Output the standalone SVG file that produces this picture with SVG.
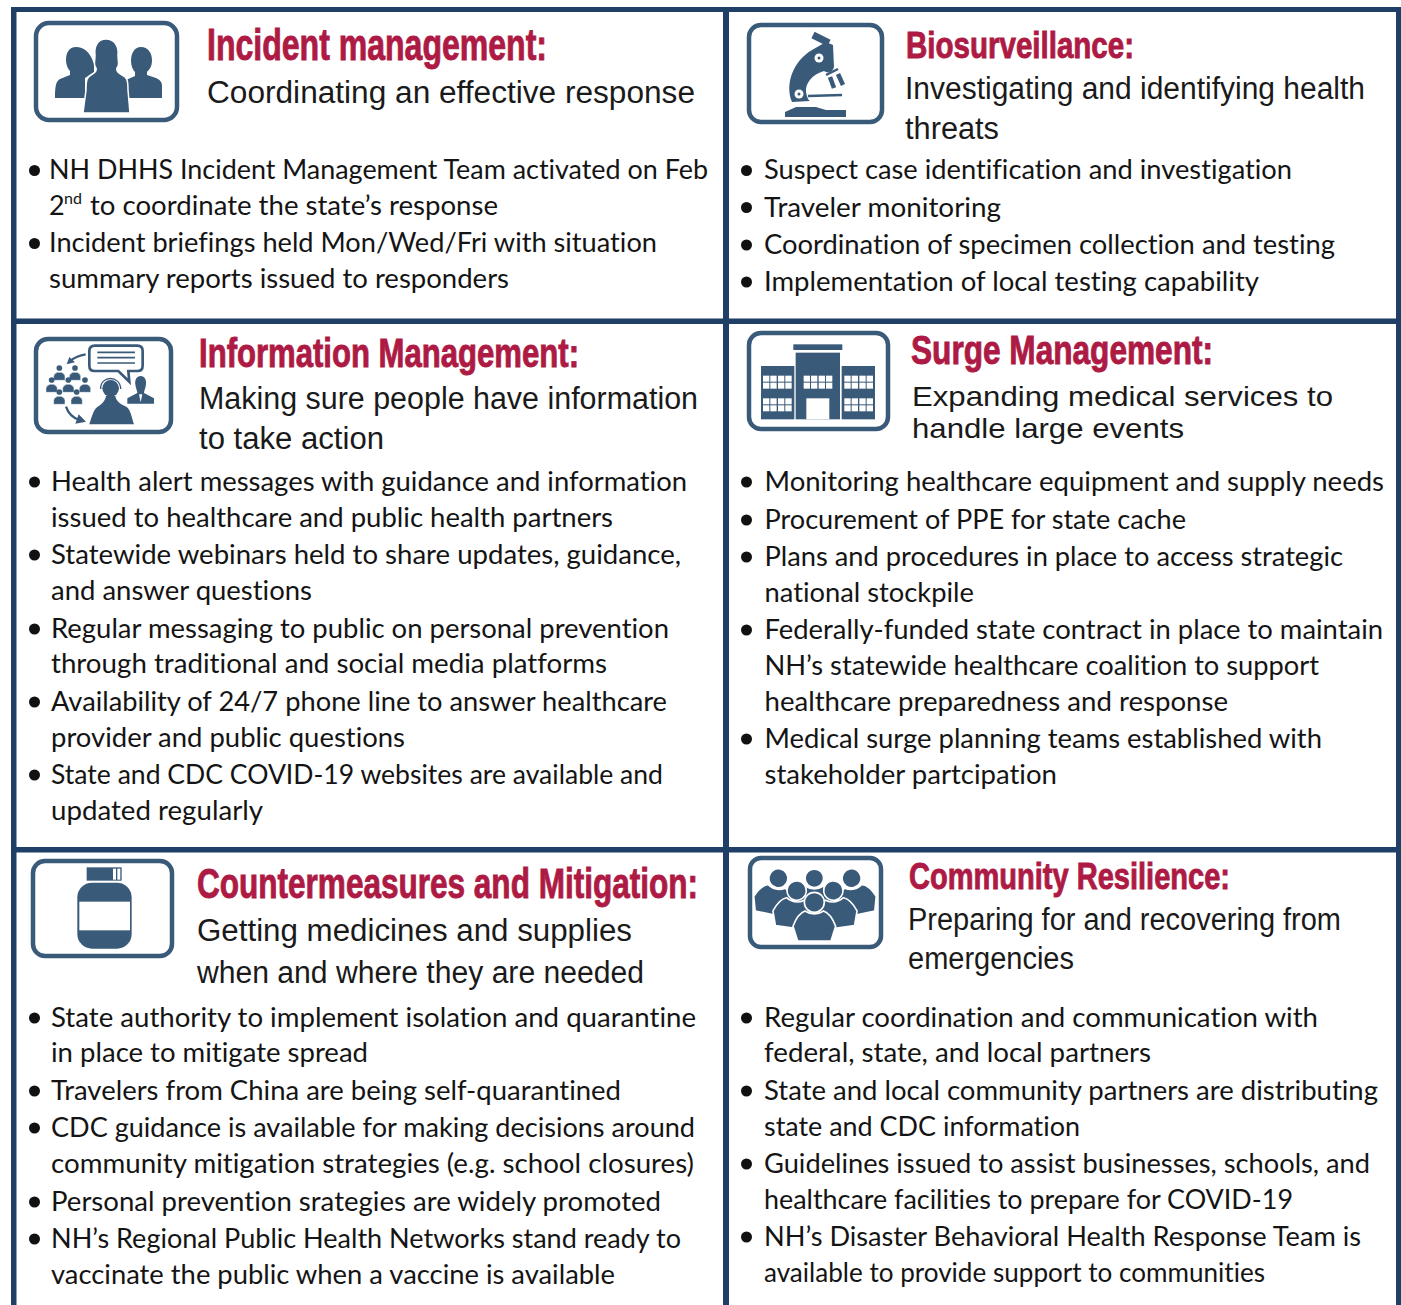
<svg xmlns="http://www.w3.org/2000/svg" xmlns:xlink="http://www.w3.org/1999/xlink" width="1401" height="1305" viewBox="0 0 1401 1305">
<style>
.t{font-family:"Liberation Sans",Arial,sans-serif;font-weight:700;fill:#ad1a44;stroke:#ad1a44;stroke-width:.9}
.s{font-family:"Liberation Sans",Arial,sans-serif;font-size:31px;fill:#1a1a1a;transform:translateY(.7px)}
.s2{font-size:28px}
.b{font-family:Lato,"Noto Sans",sans-serif;font-size:27px;fill:#141414;font-variant-ligatures:none;transform:translateY(.7px)}
.sup{font-family:Lato,"Noto Sans",sans-serif;font-size:16px;fill:#141414}
.d{fill:#111}
.frame{fill:#fff;stroke:#3a5a7a;stroke-width:4.5}
.i{fill:#3a5a7a}
.w{fill:#fff}
.il{fill:none;stroke:#3a5a7a}
.bar{fill:#1f3f66}
</style>
<defs>
<g id="pp"><circle cx="0" cy="-13" r="8.500"/><path d="M-17 24V12Q-17 5-6 0H6Q17 5 17 12V24Z" stroke="#fff" stroke-width="1.500"/></g>
<g id="win"><rect x="0" y="0" width="19" height="18"/><rect x="22" y="0" width="19" height="18"/><rect x="45" y="0" width="19" height="18"/><rect x="67" y="0" width="19" height="18"/><rect x="0" y="21" width="19" height="18"/><rect x="22" y="21" width="19" height="18"/><rect x="45" y="21" width="19" height="18"/><rect x="67" y="21" width="19" height="18"/></g>
<g id="cp"><path d="M-28 26Q-50 34-64 72L-50 116H50L64 72Q50 34 28 26Q0 44-28 26Z" stroke="#fff" stroke-width="5"/><circle cx="0" cy="0" r="30" stroke="#fff" stroke-width="5"/></g>
</defs>
<rect width="1401" height="1305" fill="#fff"/>
<g id="frame">
<rect class="bar" x="11" y="7" width="1390" height="5"/>
<rect class="bar" x="11" y="7" width="5.500" height="1298"/>
<rect class="bar" x="723" y="7" width="6" height="1298"/>
<rect class="bar" x="1396" y="7" width="5" height="1298"/>
<rect class="bar" x="11" y="318.500" width="1390" height="5.500"/>
<rect class="bar" x="11" y="847" width="1390" height="5.500"/>
</g>

<g id="incident-management">
<g id="icon-incident">
<rect class="frame" x="36" y="23" width="141" height="97" rx="13"/>
<path class="i" d="M76 47C69 47 66 53 66 60C66 65 68 69 70 71V75L60 79C56 81 55 86 55 98H85V78L94 72V64C90 52 84 47 76 47Z"/>
<path class="i" d="M141 47C134 47 131 54 131 61C131 66 133 70 135 72V76L126 80V98H162V86C162 82 160 80 156 78L147 75V72C150 69 152 66 152 60C152 53 148 47 141 47Z"/>
<path class="i" stroke="#fff" stroke-width="1.500" d="M106 39C97 39 94 47 95 55C95 62 93 65 96 68C97 71 95 73 91 75C87 77 86 80 86 90L83 113H130L128 90C128 80 127 77 122 75C118 73 116 71 117 68C120 65 118 62 118 55C119 47 115 39 106 39Z"/>
</g>
<text class="t" x="207" y="60" font-size="44" textLength="340" lengthAdjust="spacingAndGlyphs">Incident management:</text>
<text class="s" x="207" y="102" textLength="488" lengthAdjust="spacingAndGlyphs">Coordinating an effective response</text>
<circle class="d" cx="34.500" cy="170.500" r="5.500"/><circle class="d" cx="34.500" cy="243.500" r="5.500"/>
<text class="b" x="49" y="178" textLength="659" lengthAdjust="spacingAndGlyphs">NH DHHS Incident Management Team activated on Feb</text>
<text class="b" x="49" y="214">2</text><text class="sup" x="64" y="204">nd</text>
<text class="b" x="90" y="214" textLength="408" lengthAdjust="spacingAndGlyphs">to coordinate the state’s response</text>
<text class="b" x="49" y="251" textLength="608" lengthAdjust="spacingAndGlyphs">Incident briefings held Mon/Wed/Fri with situation</text>
<text class="b" x="49" y="287" textLength="460" lengthAdjust="spacingAndGlyphs">summary reports issued to responders</text>
</g>

<g id="biosurveillance">
<g id="icon-biosurveillance">
<rect class="frame" x="749" y="25" width="133" height="97" rx="12"/>
<path class="il" stroke-width="7" d="M813 35L829 43"/>
<path class="i" d="M826 42L833 45L834 67C833 72 828 74 824 71C813 74 805 83 806 92C807 97 808 100 810 101L792 102C785 85 792 62 812 50Z"/>
<circle class="w" cx="819" cy="58" r="4.500"/><circle class="i" cx="819" cy="58" r="1.500"/>
<circle class="w" cx="799" cy="94" r="4.500"/><circle class="i" cx="799" cy="94" r="1.500"/>
<path class="il" stroke-width="2.500" d="M826 75L838 69"/>
<path class="il" stroke-width="4.500" d="M830 77L834 88M838 74L843 85"/>
<path class="il" stroke-width="2.500" d="M808 96L842 95"/>
<path class="i" d="M785 117V112L796 107H816L826 110H846V117Z"/>
</g>
<text class="t" x="906" y="58" font-size="37" textLength="228" lengthAdjust="spacingAndGlyphs">Biosurveillance:</text>
<text class="s" x="905" y="98" textLength="460" lengthAdjust="spacingAndGlyphs">Investigating and identifying health</text>
<text class="s" x="905" y="138" textLength="94" lengthAdjust="spacingAndGlyphs">threats</text>
<circle class="d" cx="746.500" cy="170.500" r="5.500"/><circle class="d" cx="746.500" cy="207.500" r="5.500"/><circle class="d" cx="746.500" cy="245" r="5.500"/><circle class="d" cx="746.500" cy="282" r="5.500"/>
<text class="b" x="764" y="178" textLength="528" lengthAdjust="spacingAndGlyphs">Suspect case identification and investigation</text>
<text class="b" x="764" y="216" textLength="237" lengthAdjust="spacingAndGlyphs">Traveler monitoring</text>
<text class="b" x="764" y="253" textLength="571" lengthAdjust="spacingAndGlyphs">Coordination of specimen collection and testing</text>
<text class="b" x="764" y="290" textLength="495" lengthAdjust="spacingAndGlyphs">Implementation of local testing capability</text>
</g>

<g id="information-management">
<g id="icon-information">
<rect class="frame" x="36" y="339" width="135" height="93" rx="12"/>
<g transform="translate(20,325) scale(.3333)">
<path class="w" stroke="#3a5a7a" stroke-width="8" d="M225 62H352Q368 62 368 78V122Q368 138 352 138H325L328 170L295 138H224Q208 138 208 122V78Q208 62 225 62Z"/>
<path class="il" stroke-width="5" d="M232 82H345M232 98H345M232 114H345"/>
<path class="il" stroke-width="7" d="M197 88Q170 92 150 108M138 245Q148 275 178 285"/>
<path class="i" d="M140 118L165 112L148 96ZM198 290L166 296L176 268Z"/>
<g class="i"><use xlink:href="#pp" x="118" y="142"/><use xlink:href="#pp" x="165" y="142"/><use xlink:href="#pp" x="95" y="178"/><use xlink:href="#pp" x="145" y="178"/><use xlink:href="#pp" x="195" y="178"/><use xlink:href="#pp" x="118" y="214"/><use xlink:href="#pp" x="170" y="214"/></g>
<path class="i" d="M362 153C350 153 344 165 346 178C347 190 352 198 352 204L322 220V236H402V220L372 204C372 198 377 190 378 178C380 165 374 153 362 153Z"/>
<path class="w" d="M357 208L362 232L367 208Z"/>
<circle class="i" cx="272" cy="190" r="25"/>
<path class="il" stroke-width="4" d="M242 192C240 150 302 150 302 192"/>
<path class="i" d="M258 212H286C288 228 300 236 320 246C332 254 336 280 342 298H208C214 280 220 254 232 246C244 238 256 228 258 212Z"/>
</g>
</g>
<text class="t" x="199" y="367" font-size="40" textLength="380" lengthAdjust="spacingAndGlyphs">Information Management:</text>
<text class="s" x="199" y="408" textLength="499" lengthAdjust="spacingAndGlyphs">Making sure people have information</text>
<text class="s" x="199" y="448" textLength="185" lengthAdjust="spacingAndGlyphs">to take action</text>
<circle class="d" cx="34.500" cy="482" r="5.500"/><circle class="d" cx="34.500" cy="555" r="5.500"/><circle class="d" cx="34.500" cy="629" r="5.500"/><circle class="d" cx="34.500" cy="702" r="5.500"/><circle class="d" cx="34.500" cy="775" r="5.500"/>
<text class="b" x="51" y="490" textLength="636" lengthAdjust="spacingAndGlyphs">Health alert messages with guidance and information</text>
<text class="b" x="51" y="526" textLength="562" lengthAdjust="spacingAndGlyphs">issued to healthcare and public health partners</text>
<text class="b" x="51" y="563" textLength="630" lengthAdjust="spacingAndGlyphs">Statewide webinars held to share updates, guidance,</text>
<text class="b" x="51" y="599" textLength="261" lengthAdjust="spacingAndGlyphs">and answer questions</text>
<text class="b" x="51" y="637" textLength="618" lengthAdjust="spacingAndGlyphs">Regular messaging to public on personal prevention</text>
<text class="b" x="51" y="672" textLength="556" lengthAdjust="spacingAndGlyphs">through traditional and social media platforms</text>
<text class="b" x="51" y="710" textLength="616" lengthAdjust="spacingAndGlyphs">Availability of 24/7 phone line to answer healthcare</text>
<text class="b" x="51" y="746" textLength="354" lengthAdjust="spacingAndGlyphs">provider and public questions</text>
<text class="b" x="51" y="783" textLength="612" lengthAdjust="spacingAndGlyphs">State and CDC COVID-19 websites are available and</text>
<text class="b" x="51" y="819" textLength="212" lengthAdjust="spacingAndGlyphs">updated regularly</text>
</g>

<g id="surge-management">
<g id="icon-surge">
<rect class="frame" x="749" y="333" width="139" height="96" rx="12"/>
<g transform="translate(735,320) scale(.3333)">
<rect class="i" x="175" y="73" width="147" height="17"/>
<rect class="i" x="182" y="98" width="133" height="200"/>
<rect class="w" x="214" y="235" width="69" height="63"/>
<rect class="i" x="78" y="138" width="100" height="160"/>
<rect class="i" x="320" y="138" width="100" height="160"/>
<g class="w"><use xlink:href="#win" x="84" y="167"/><use xlink:href="#win" x="84" y="235"/><use xlink:href="#win" x="206" y="167"/><use xlink:href="#win" x="328" y="167"/><use xlink:href="#win" x="328" y="235"/></g>
</g>
</g>
<text class="t" x="911" y="364" font-size="40" textLength="302" lengthAdjust="spacingAndGlyphs">Surge Management:</text>
<text class="s s2" x="912" y="405" textLength="421" lengthAdjust="spacingAndGlyphs">Expanding medical services to</text>
<text class="s s2" x="912" y="437" textLength="272" lengthAdjust="spacingAndGlyphs">handle large events</text>
<circle class="d" cx="746.500" cy="482" r="5.500"/><circle class="d" cx="746.500" cy="520" r="5.500"/><circle class="d" cx="746.500" cy="557" r="5.500"/><circle class="d" cx="746.500" cy="630" r="5.500"/><circle class="d" cx="746.500" cy="739" r="5.500"/>
<text class="b" x="764.500" y="490" textLength="619.500" lengthAdjust="spacingAndGlyphs">Monitoring healthcare equipment and supply needs</text>
<text class="b" x="764.500" y="528" textLength="421.500" lengthAdjust="spacingAndGlyphs">Procurement of PPE for state cache</text>
<text class="b" x="764.500" y="565" textLength="578.500" lengthAdjust="spacingAndGlyphs">Plans and procedures in place to access strategic</text>
<text class="b" x="764.500" y="601" textLength="209.500" lengthAdjust="spacingAndGlyphs">national stockpile</text>
<text class="b" x="764.500" y="638" textLength="618.500" lengthAdjust="spacingAndGlyphs">Federally-funded state contract in place to maintain</text>
<text class="b" x="764.500" y="674" textLength="554.500" lengthAdjust="spacingAndGlyphs">NH’s statewide healthcare coalition to support</text>
<text class="b" x="764.500" y="710" textLength="463.500" lengthAdjust="spacingAndGlyphs">healthcare preparedness and response</text>
<text class="b" x="764.500" y="747" textLength="557.500" lengthAdjust="spacingAndGlyphs">Medical surge planning teams established with</text>
<text class="b" x="764.500" y="783" textLength="292.500" lengthAdjust="spacingAndGlyphs">stakeholder partcipation</text>
</g>

<g id="countermeasures-mitigation">
<g id="icon-countermeasures">
<rect class="frame" x="33" y="861" width="139" height="95" rx="12"/>
<g transform="translate(20,850) scale(.3333)">
<rect class="i" x="200" y="52" width="105" height="40"/>
<rect class="w" x="279" y="56" width="9" height="33"/><rect class="w" x="292" y="56" width="9" height="33"/>
<rect class="i" x="172" y="98" width="163" height="198" rx="44"/>
<rect class="w" x="178" y="155" width="152" height="86"/>
</g>
</g>
<text class="t" x="197" y="898" font-size="42" textLength="501" lengthAdjust="spacingAndGlyphs">Countermeasures and Mitigation:</text>
<text class="s" x="197" y="940" textLength="435" lengthAdjust="spacingAndGlyphs">Getting medicines and supplies</text>
<text class="s" x="197" y="982" textLength="447" lengthAdjust="spacingAndGlyphs">when and where they are needed</text>
<circle class="d" cx="34.500" cy="1018" r="5.500"/><circle class="d" cx="34.500" cy="1091" r="5.500"/><circle class="d" cx="34.500" cy="1128" r="5.500"/><circle class="d" cx="34.500" cy="1202" r="5.500"/><circle class="d" cx="34.500" cy="1239" r="5.500"/>
<text class="b" x="51" y="1026" textLength="645" lengthAdjust="spacingAndGlyphs">State authority to implement isolation and quarantine</text>
<text class="b" x="51" y="1061" textLength="317" lengthAdjust="spacingAndGlyphs">in place to mitigate spread</text>
<text class="b" x="51" y="1099" textLength="570" lengthAdjust="spacingAndGlyphs">Travelers from China are being self-quarantined</text>
<text class="b" x="51" y="1136" textLength="644" lengthAdjust="spacingAndGlyphs">CDC guidance is available for making decisions around</text>
<text class="b" x="51" y="1172" textLength="643" lengthAdjust="spacingAndGlyphs">community mitigation strategies (e.g. school closures)</text>
<text class="b" x="51" y="1210" textLength="610" lengthAdjust="spacingAndGlyphs">Personal prevention srategies are widely promoted</text>
<text class="b" x="51" y="1247" textLength="630" lengthAdjust="spacingAndGlyphs">NH’s Regional Public Health Networks stand ready to</text>
<text class="b" x="51" y="1283" textLength="564" lengthAdjust="spacingAndGlyphs">vaccinate the public when a vaccine is available</text>
</g>

<g id="community-resilience">
<g id="icon-community">
<rect class="frame" x="750" y="858" width="131" height="89" rx="11"/>
<g transform="translate(735,845) scale(.3333)" class="i">
<use xlink:href="#cp" transform="translate(130,100) rotate(12) scale(.95)"/>
<use xlink:href="#cp" transform="translate(350,100) rotate(-12) scale(.95)"/>
<use xlink:href="#cp" transform="translate(238,100) scale(.92)"/>
<use xlink:href="#cp" transform="translate(185,137) rotate(8) scale(.97)"/>
<use xlink:href="#cp" transform="translate(295,137) rotate(-8) scale(.97)"/>
<use xlink:href="#cp" transform="translate(238,172)"/>
</g>
</g>
<text class="t" x="909" y="889" font-size="37" textLength="321" lengthAdjust="spacingAndGlyphs">Community Resilience:</text>
<text class="s" x="908" y="929" textLength="433" lengthAdjust="spacingAndGlyphs">Preparing for and recovering from</text>
<text class="s" x="908" y="968" textLength="166" lengthAdjust="spacingAndGlyphs">emergencies</text>
<circle class="d" cx="746.500" cy="1018" r="5.500"/><circle class="d" cx="746.500" cy="1091" r="5.500"/><circle class="d" cx="746.500" cy="1164" r="5.500"/><circle class="d" cx="746.500" cy="1237" r="5.500"/>
<text class="b" x="764" y="1026" textLength="554" lengthAdjust="spacingAndGlyphs">Regular coordination and communication with</text>
<text class="b" x="764" y="1061" textLength="387" lengthAdjust="spacingAndGlyphs">federal, state, and local partners</text>
<text class="b" x="764" y="1099" textLength="614" lengthAdjust="spacingAndGlyphs">State and local community partners are distributing</text>
<text class="b" x="764" y="1135" textLength="316" lengthAdjust="spacingAndGlyphs">state and CDC information</text>
<text class="b" x="764" y="1172" textLength="606" lengthAdjust="spacingAndGlyphs">Guidelines issued to assist businesses, schools, and</text>
<text class="b" x="764" y="1208" textLength="529" lengthAdjust="spacingAndGlyphs">healthcare facilities to prepare for COVID-19</text>
<text class="b" x="764" y="1245" textLength="597" lengthAdjust="spacingAndGlyphs">NH’s Disaster Behavioral Health Response Team is</text>
<text class="b" x="764" y="1281" textLength="501" lengthAdjust="spacingAndGlyphs">available to provide support to communities</text>
</g>
</svg>
